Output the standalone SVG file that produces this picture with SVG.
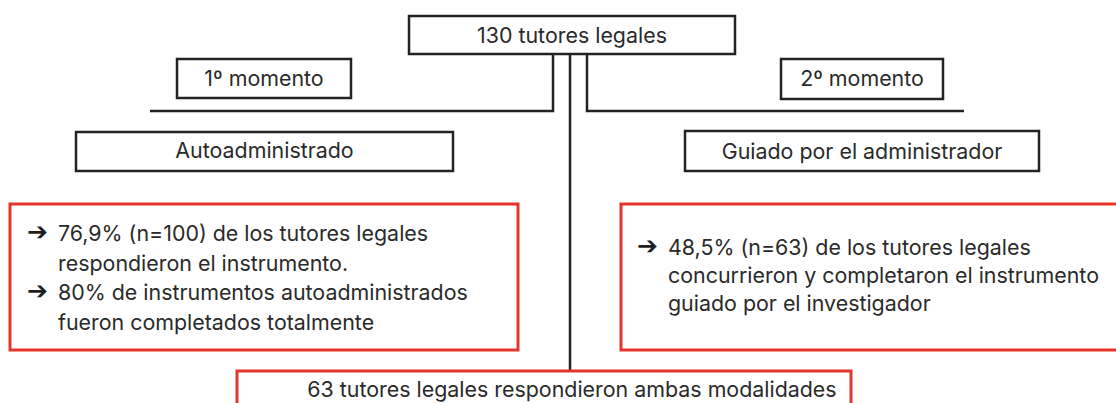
<svg xmlns="http://www.w3.org/2000/svg" width="1116" height="403" viewBox="0 0 1116 403">
<style>
.box{fill:#fff;stroke:#232323;stroke-width:2.5}
.red{fill:#fff;stroke:#e5352b;stroke-width:3}
.ln{fill:none;stroke:#232323;stroke-width:2.5}
text{font-family:Inter,"Liberation Sans",sans-serif;font-size:21.4px;fill:#2a2a2a}
.c{text-anchor:middle}
.ar{font-family:"DejaVu Sans",sans-serif;font-size:25px;fill:#1e1e1e}
</style>
<rect width="1116" height="403" fill="#fff"/>
<g id="connectors">
<path class="ln" d="M553,54 V111 H150"/>
<path class="ln" d="M587,54 V111 H964"/>
<path class="ln" d="M570,54 V371"/>
</g>
<g id="n-total">
<rect class="box" x="409" y="16" width="326" height="38"/>
<text class="c" x="572" y="43">130 tutores legales</text>
</g>
<g id="n-m1">
<rect class="box" x="177" y="59" width="174" height="39"/>
<text class="c" x="264" y="86">1º momento</text>
</g>
<g id="n-m2">
<rect class="box" x="781" y="59" width="162" height="40"/>
<text class="c" x="862" y="86">2º momento</text>
</g>
<g id="n-auto">
<rect class="box" x="76" y="132" width="377" height="39"/>
<text class="c" x="264.5" y="158">Autoadministrado</text>
</g>
<g id="n-guiado">
<rect class="box" x="685" y="131" width="354" height="40"/>
<text class="c" x="862" y="159">Guiado por el administrador</text>
</g>
<g id="n-res1">
<rect class="red" x="10" y="204" width="508" height="146"/>
<text class="ar" x="27" y="240">➔</text>
<text x="58" y="241">76,9% (n=100) de los tutores legales</text>
<text x="58" y="271">respondieron el instrumento.</text>
<text class="ar" x="27" y="299">➔</text>
<text x="58" y="300">80% de instrumentos autoadministrados</text>
<text x="58" y="330">fueron completados totalmente</text>
</g>
<g id="n-res2">
<rect class="red" x="621" y="204" width="510" height="146"/>
<text class="ar" x="637" y="254">➔</text>
<text x="668" y="255">48,5% (n=63) de los tutores legales</text>
<text x="668" y="283">concurrieron y completaron el instrumento</text>
<text x="668" y="311">guiado por el investigador</text>
</g>
<g id="n-ambas">
<rect class="red" x="237" y="371" width="614" height="50"/>
<text class="c" x="572" y="397">63 tutores legales respondieron ambas modalidades</text>
</g>
</svg>
